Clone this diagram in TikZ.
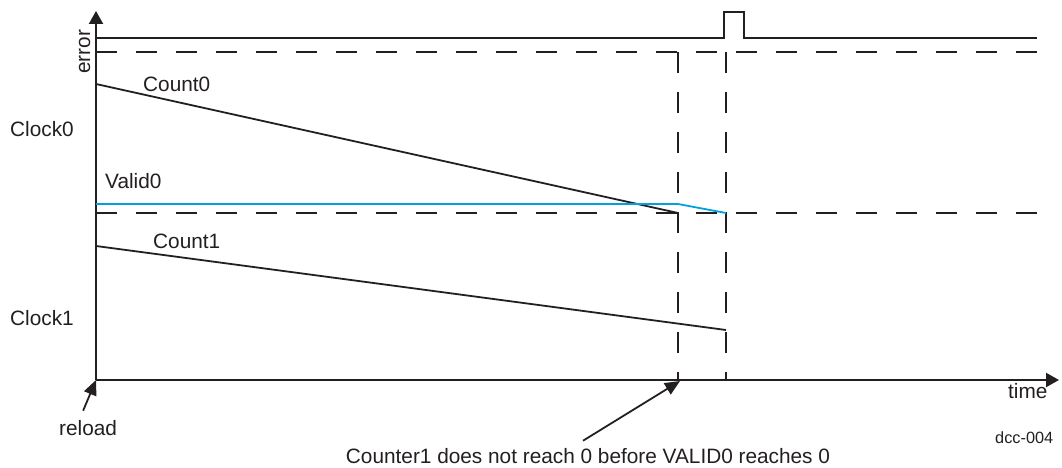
\documentclass[tikz,border=0pt]{standalone}
\usepackage{fontspec}
\setmainfont{Liberation Sans}
\usetikzlibrary{arrows.meta}
\definecolor{dccInk}{RGB}{35,31,32}
\definecolor{dccBlue}{RGB}{0,160,227}
\tikzset{
  dlabel/.style={font=\fontsize{20.8}{23}\selectfont, text=dccInk,
    anchor=base west, inner sep=0pt},
  dtag/.style={font=\fontsize{16.3}{18}\selectfont, text=dccInk,
    anchor=base west, inner sep=0pt},
  daxis/.style={line width=2.2pt, draw=dccInk,
    -{Triangle[length=13pt,width=14pt]}},
  dsig/.style={line width=1.8pt, draw=dccInk, line join=miter},
  dguide/.style={line width=1.7pt, draw=dccInk, dash pattern=on 21pt off 19pt},
  dpoint/.style={-{Triangle[length=15pt,width=13pt]}, line width=1.8pt,
    draw=dccInk}
}
\begin{document}
\begin{tikzpicture}[x=1pt, y=-1pt]
\path[use as bounding box] (0,0) rectangle (1062,468);

% axes
\coordinate (O) at (96,380);
\coordinate (ytop) at (96,11);
\coordinate (xend) at (1059,380);
\coordinate (miss) at (680,381);
\draw[daxis] (O) -- (ytop);
\draw[daxis] (O) -- (xend);

% reference levels and time marks
\draw[dguide] (96,52) -- (1037,52);
\draw[dguide] (96,213) -- (1037,213);
\draw[dguide] (678,52) -- (678,380);
\draw[dguide] (726,52) -- (726,380);

% signals
\draw[dsig] (96,38) -- (724,38) -- (724,12) -- (744,12) -- (744,38) -- (1037,38);
\draw[dsig] (96,84) -- (678,213);
\draw[dsig, draw=dccBlue] (96,204) -- (678,204) -- (726,213);
\draw[dsig] (96,246) -- (726,330);

% labels
\node[dlabel, anchor=base, rotate=90] (err) at (90,52) {error};
\node[dlabel] (cnt0) at (143,92) {Count0};
\node[dlabel] (clk0) at (10,136) {Clock0};
\node[dlabel] (val0) at (105,188) {Valid0};
\node[dlabel] (cnt1) at (153,248) {Count1};
\node[dlabel] (clk1) at (10,325) {Clock1};
\node[dlabel] (reload) at (59,435) {reload};
\node[dlabel] (time) at (1008,398) {time};
\node[dtag] (tag) at (995,443) {dcc-004};
\node[dlabel, anchor=base] (note) at (588,463)
  {Counter1 does not reach 0 before VALID0 reaches 0};

\draw[dpoint] ([xshift=-5pt,yshift=9pt]reload.north) -- (O);
\draw[dpoint] ([xshift=-5pt,yshift=7pt]note.north) -- (miss);
\end{tikzpicture}
\end{document}
